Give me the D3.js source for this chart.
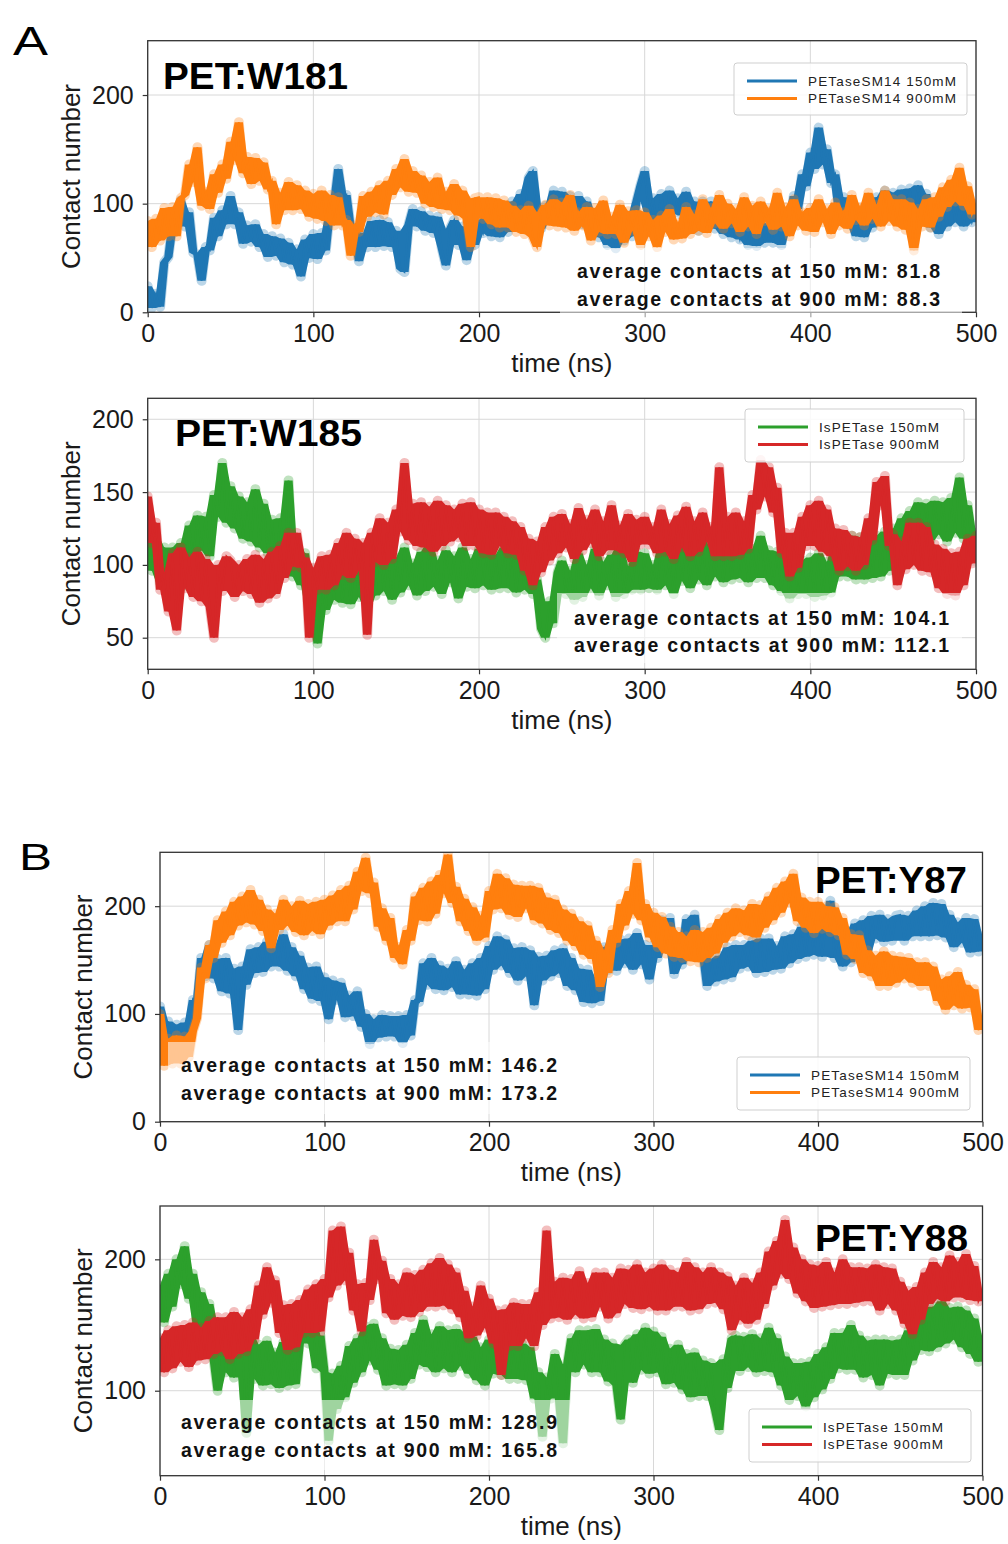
<!DOCTYPE html>
<html><head><meta charset="utf-8">
<script src="https://cdn.jsdelivr.net/npm/d3@7"></script>
<style>
html,body{margin:0;padding:0;background:#fff;}
svg{display:block;font-family:"Liberation Sans",Arial,Helvetica,sans-serif;}
</style></head><body>
<svg id="chart" width="1008" height="1544"></svg>
<script>
// ---------- data ----------
const time = d3.range(0, 500.01, 2.5);           // sampling times (ns)
const xTicks = [0, 100, 200, 300, 400, 500];
const yTicksW181 = [0, 100, 200];
const yTicksW185 = [50, 100, 150, 200];
const yTicksY87 = [0, 100, 200];
const yTicksY88 = [100, 200];
const titles = ["PET:W181", "PET:W185", "PET:Y87", "PET:Y88"];
const legendSM14 = ["PETaseSM14 150mM", "PETaseSM14 900mM"];
const legendIs = ["IsPETase 150mM", "IsPETase 900mM"];
const avg150 = ["81.8", "104.1", "146.2", "128.9"];
const avg900 = ["88.3", "112.1", "173.2", "165.8"];

const w181_150 = [
24,4,17,5,46,51,82,79,103,79,92,55,53,29,60,57,87,70,94,81,
107,81,92,63,80,65,81,60,72,51,70,52,68,46,64,44,58,33,67,50,
72,49,73,57,94,100,132,103,108,78,74,47,73,60,84,60,85,61,83,60,
75,40,37,81,95,79,93,75,89,73,88,59,43,77,85,62,79,48,76,62,
85,73,89,70,94,69,88,74,102,85,109,87,124,130,83,77,98,86,112,95,
111,85,107,81,107,81,102,75,91,69,85,62,84,59,82,66,89,70,102,117,
130,88,105,82,109,86,112,91,105,89,111,83,102,75,102,86,102,77,94,72,
90,69,83,67,80,62,84,61,83,64,79,64,85,62,89,76,107,95,127,116,
147,132,170,136,150,119,127,90,106,81,95,70,91,69,90,78,106,90,112,96,
110,94,113,89,114,89,117,92,109,78,91,72,95,79,107,83,105,79,98,83,
95];
const w181_900 = [
84,60,86,66,96,70,97,70,105,108,136,120,152,98,111,95,127,110,136,123,
157,140,175,128,143,118,142,121,138,113,121,81,110,94,120,94,117,95,112,88,
109,86,112,84,108,80,106,80,85,52,80,74,107,88,111,92,117,90,121,108,
132,115,141,111,130,110,126,100,120,97,124,95,111,94,118,89,112,86,60,105,
106,86,106,81,105,78,103,78,98,74,94,72,98,69,60,92,99,80,104,79,
101,78,108,75,92,80,97,66,96,74,103,72,88,72,99,64,93,75,94,62,
92,70,85,60,89,74,95,67,82,68,97,72,90,75,104,73,96,82,108,77,
100,82,95,74,106,79,98,72,102,84,95,76,110,79,97,70,104,80,92,75,
96,74,104,83,95,72,101,80,92,77,108,85,97,80,110,86,99,79,112,84,
104,79,104,76,101,57,95,79,104,78,106,88,115,97,122,102,133,98,116,90,
100];
const w185_150 = [
124,96,118,88,112,87,112,88,115,86,127,105,134,110,133,106,148,133,170,129,
154,125,147,118,143,116,152,112,142,108,131,101,132,105,158,92,114,86,108,71,
72,46,87,69,99,76,99,74,96,73,102,78,101,71,102,79,109,82,105,76,
105,81,112,86,101,79,109,82,114,85,103,80,110,88,106,77,112,85,104,84,
111,86,109,83,107,84,112,84,110,81,106,83,109,80,90,56,50,75,60,95,
103,80,96,76,108,78,100,84,111,79,102,86,107,78,113,80,99,83,109,83,
108,84,100,83,112,86,104,80,109,89,113,84,107,90,116,86,110,92,115,88,
113,90,114,91,112,88,111,91,120,91,110,86,109,82,106,77,104,80,103,80,
105,78,108,79,102,81,113,92,120,92,120,90,119,90,114,91,120,92,123,96,
125,103,132,109,137,114,143,120,142,117,144,121,143,116,146,122,160,118,141,113,
122];
const w185_900 = [
147,115,129,83,95,68,108,55,112,84,105,78,109,75,104,71,50,100,82,106,
103,78,100,82,104,80,107,74,104,77,109,80,113,91,122,99,122,98,105,50,
98,83,106,83,107,86,115,93,122,91,118,96,115,52,122,102,132,100,129,104,
138,123,170,117,142,113,143,112,140,109,144,113,141,116,138,119,142,113,143,113,
138,108,136,107,136,113,133,108,130,107,126,96,118,86,116,95,126,103,133,108,
135,112,128,104,139,110,131,115,138,106,130,110,141,110,127,108,135,102,131,114,
133,114,126,108,138,109,128,104,134,112,140,106,130,109,136,116,126,106,167,106,
133,106,136,107,130,111,148,138,172,147,167,136,153,108,122,92,122,98,133,113,
141,113,144,109,138,106,125,96,124,99,120,96,119,100,132,117,157,141,161,113,
121,86,116,97,129,100,129,96,126,95,114,84,111,80,108,79,109,86,118,101,
120];
const y87_150 = [
107,71,93,72,90,69,92,70,113,106,152,135,164,133,151,121,152,119,142,85,
144,127,160,138,162,139,167,144,163,144,174,140,162,135,154,123,143,114,144,112,
134,95,131,113,129,97,117,98,121,88,100,72,95,78,99,79,98,79,98,73,
99,80,113,111,147,127,152,123,145,122,142,125,149,118,141,118,147,117,152,123,
163,141,172,145,169,138,161,131,162,135,159,108,153,131,154,135,159,138,161,126,
152,122,142,111,141,110,132,112,162,141,171,140,169,147,170,141,175,146,164,132,
164,152,187,166,189,137,160,146,188,168,192,157,157,126,151,130,154,132,162,134,
164,142,164,144,168,138,170,139,170,141,163,142,172,147,174,151,181,153,184,155,
183,153,186,205,152,172,144,175,148,184,159,187,156,191,170,192,167,188,168,191,
192,168,191,172,196,172,200,172,203,173,202,171,192,162,185,166,189,157,188,158,
172];
const y87_900 = [
100,52,77,54,80,54,79,60,84,96,143,133,164,152,187,166,195,173,204,182,
209,185,215,183,206,177,197,161,193,178,206,182,200,176,205,173,202,177,204,174,
206,182,210,186,215,186,219,197,232,214,245,212,222,181,198,168,189,152,162,146,
178,168,209,187,217,186,223,193,229,212,248,203,218,186,207,177,199,168,191,171,
214,197,230,198,226,192,220,190,219,198,219,187,217,184,208,178,206,175,197,168,
193,163,186,155,182,151,168,125,159,138,178,166,202,182,214,193,240,187,202,171,
194,162,190,156,181,153,176,152,172,149,178,148,176,152,180,156,188,166,194,172,
198,176,196,173,202,171,201,180,209,187,217,194,223,203,230,186,208,180,204,175,
204,179,200,176,199,173,189,155,174,151,173,138,159,135,154,126,158,126,154,129,
153,133,152,129,148,126,148,126,144,112,132,104,135,108,139,105,127,106,123,85,
95];
const y88_150 = [
180,152,189,164,200,181,210,170,189,149,175,144,166,125,100,150,114,148,110,144,
137,68,142,109,135,104,138,105,129,102,137,104,131,105,139,163,136,156,117,142,
114,62,113,86,119,95,134,106,140,114,149,123,151,116,140,104,132,105,131,104,
135,109,144,120,154,118,143,114,149,117,146,114,147,119,144,113,141,108,133,104,
139,113,146,112,143,109,136,109,136,108,133,94,114,65,110,94,128,96,60,120,
140,114,146,120,146,114,147,114,139,107,136,104,78,135,139,106,143,116,148,113,
145,114,141,105,132,106,135,101,128,95,129,96,123,96,121,85,70,124,102,140,
142,115,141,118,143,114,140,115,148,114,140,104,126,93,121,96,121,88,122,95,
128,101,133,109,144,117,144,116,150,116,142,110,138,112,139,104,139,113,138,112,
139,112,146,123,158,131,163,130,164,133,168,136,163,139,164,133,161,128,155,122,
140];
const y88_900 = [
140,114,146,117,149,122,150,118,152,123,148,124,153,128,156,130,156,124,160,128,
156,130,162,139,180,158,194,167,184,144,165,131,166,133,169,144,177,144,181,145,
185,171,222,180,225,184,205,161,181,145,182,169,215,185,199,159,185,154,181,157,
190,156,188,160,192,164,197,164,201,165,196,162,190,156,176,140,164,142,180,148,
170,136,161,112,162,134,167,134,166,140,166,134,175,150,222,155,183,156,186,154,
185,158,191,155,182,156,190,164,190,155,186,159,193,166,192,163,196,162,190,164,
193,161,196,161,192,164,190,164,198,161,194,162,190,166,194,167,190,162,187,146,
180,154,186,151,182,154,190,166,206,180,214,189,230,185,209,174,200,168,196,163,
195,164,198,165,190,166,200,166,194,167,194,168,193,168,196,161,194,166,193,161,
183,151,176,143,179,154,190,166,198,170,194,168,203,171,198,171,204,169,195,168,
175];

// ---------- styles / layout ----------
const C = {blue:"#1f77b4", orange:"#ff7f0e", green:"#2ca02c", red:"#d62728"};
const panels = [
  {xr:[147.7,976], yr:[312.3,40.7], yd:[0,250], yt:yTicksW181, s:[w181_150,w181_900], c:[C.blue,C.orange],
   leg:legendSM14, lb:[734,63,233,52], ti:0, tx:163, ty:89, ta:"start", tw:185,
   box:[560,248,402,70], ax:577, ay:[278,306], aw:363, ylx:80},
  {xr:[147.7,976], yr:[669.3,398.3], yd:[28.3,214.4], yt:yTicksW185, s:[w185_150,w185_900], c:[C.green,C.red],
   leg:legendIs, lb:[745,409,219,53], ti:1, tx:175, ty:446, ta:"start", tw:187,
   box:[557,593,405,70], ax:574, ay:[625,652], aw:375, ylx:80},
  {xr:[160,982.5], yr:[1121.7,852.3], yd:[0,250], yt:yTicksY87, s:[y87_150,y87_900], c:[C.blue,C.orange],
   leg:legendSM14, lb:[737,1057,233,53], ti:2, tx:967, ty:893, ta:"end", tw:152,
   box:[168,1042,400,72], ax:181, ay:[1072,1100], aw:376, ylx:92},
  {xr:[160,982.5], yr:[1475.7,1206], yd:[35.3,240.6], yt:yTicksY88, s:[y88_150,y88_900], c:[C.green,C.red],
   leg:legendIs, lb:[749,1409,222,53], ti:3, tx:968, ty:1251, ta:"end", tw:153,
   box:[168,1400,402,70], ax:181, ay:[1429,1457], aw:376, ylx:92}
];

const svg = d3.select("#chart");
const defs = svg.append("defs");

panels.forEach((p, pi) => {
  const x = d3.scaleLinear().domain([0, 500]).range(p.xr);
  const y = d3.scaleLinear().domain(p.yd).range(p.yr);
  const g = svg.append("g");
  const L = p.xr[0], R = p.xr[1], T = p.yr[1], B = p.yr[0];

  defs.append("clipPath").attr("id", "clip" + pi)
    .append("rect").attr("x", L).attr("y", T).attr("width", R - L).attr("height", B - T);

  // grid
  g.append("g").selectAll("line").data(xTicks).join("line")
    .attr("x1", d => x(d)).attr("x2", d => x(d)).attr("y1", T).attr("y2", B)
    .attr("stroke", "#d8d8d8").attr("stroke-width", 1);
  g.append("g").selectAll("line").data(p.yt).join("line")
    .attr("x1", L).attr("x2", R).attr("y1", d => y(d)).attr("y2", d => y(d))
    .attr("stroke", "#d8d8d8").attr("stroke-width", 1);

  // series: light halo along the trace, dense core filling neighbouring samples, trace on top
  const line = d3.line().x((d, i) => x(time[i])).y(d => y(d));
  const band = d3.area().x((d, i) => x(time[i]))
    .y0((d, i, a) => y(Math.min(a[Math.max(0, i - 1)], d, a[Math.min(a.length - 1, i + 1)])))
    .y1((d, i, a) => y(Math.max(a[Math.max(0, i - 1)], d, a[Math.min(a.length - 1, i + 1)])));
  const dg = g.append("g").attr("clip-path", `url(#clip${pi})`);
  p.s.forEach((ser, si) => {
    dg.append("path").attr("d", line(ser)).attr("fill", "none")
      .attr("stroke", p.c[si]).attr("stroke-width", 10).attr("stroke-opacity", 0.3)
      .attr("stroke-linejoin", "round").attr("stroke-linecap", "round");
    dg.append("path").attr("d", band(ser)).attr("fill", p.c[si]).attr("stroke", "none");
    dg.append("path").attr("d", line(ser)).attr("fill", "none")
      .attr("stroke", p.c[si]).attr("stroke-width", 1.8).attr("stroke-linejoin", "miter")
      .attr("stroke-miterlimit", 4);
  });

  // axes
  const xa = g.append("g").attr("transform", `translate(0,${B})`)
    .call(d3.axisBottom(x).tickValues(xTicks).tickSize(5).tickPadding(7).tickFormat(d3.format("d")));
  const ya = g.append("g").attr("transform", `translate(${L},0)`)
    .call(d3.axisLeft(y).tickValues(p.yt).tickSize(5).tickPadding(9).tickFormat(d3.format("d")));
  [xa, ya].forEach(a => {
    a.attr("font-family", null).attr("font-size", null);
    a.select(".domain").remove();
    a.selectAll(".tick line").attr("stroke", "#333").attr("stroke-width", 1.2);
    a.selectAll(".tick text").attr("fill", "#1a1a1a").style("font-size", "25px");
  });

  // spines
  g.append("rect").attr("x", L).attr("y", T).attr("width", R - L).attr("height", B - T)
    .attr("fill", "none").attr("stroke", "#333").attr("stroke-width", 1.3);

  // axis labels
  g.append("text").attr("x", (L + R) / 2).attr("y", B + 59.5).attr("text-anchor", "middle")
    .attr("fill", "#1a1a1a").style("font-size", "26px").text("time (ns)");
  g.append("text").attr("transform", `translate(${p.ylx},${(T + B) / 2}) rotate(-90)`)
    .attr("text-anchor", "middle").attr("fill", "#1a1a1a").style("font-size", "26px").text("Contact number");

  // annotation box + text
  g.append("rect").attr("x", p.box[0]).attr("y", p.box[1]).attr("width", p.box[2]).attr("height", p.box[3])
    .attr("fill", "#fff").attr("fill-opacity", 0.55);
  const ann = [`average contacts at 150 mM: ${avg150[pi]}`, `average contacts at 900 mM: ${avg900[pi]}`];
  ann.forEach((t, k) => {
    g.append("text").attr("x", p.ax).attr("y", p.ay[k]).attr("fill", "#111")
      .style("font-size", "19.5px").style("font-weight", "bold")
      .attr("textLength", p.aw).attr("lengthAdjust", "spacing").text(t);
  });

  // title
  g.append("text").attr("x", p.tx).attr("y", p.ty).attr("text-anchor", p.ta)
    .attr("fill", "#000").style("font-size", "37px").style("font-weight", "bold")
    .attr("textLength", p.tw).attr("lengthAdjust", "spacingAndGlyphs").text(titles[p.ti]);

  // legend
  const lg = g.append("g").attr("transform", `translate(${p.lb[0]},${p.lb[1]})`);
  lg.append("rect").attr("width", p.lb[2]).attr("height", p.lb[3]).attr("rx", 3)
    .attr("fill", "#fff").attr("fill-opacity", 0.85).attr("stroke", "#cfcfcf").attr("stroke-width", 1);
  p.leg.forEach((lab, k) => {
    const yy = 18 + k * 17.5;
    lg.append("line").attr("x1", 13).attr("x2", 63).attr("y1", yy).attr("y2", yy)
      .attr("stroke", p.c[k]).attr("stroke-width", 3);
    lg.append("text").attr("x", 74).attr("y", yy).attr("dy", "0.36em").attr("fill", "#222")
      .style("font-size", "13.5px")
      .attr("textLength", lab.startsWith("PET") ? 148 : 120).attr("lengthAdjust", "spacing").text(lab);
  });
});

// panel letters
svg.append("text").attr("x", 13).attr("y", 55).attr("fill", "#000").style("font-size", "41px")
  .attr("textLength", 35).attr("lengthAdjust", "spacingAndGlyphs").text("A");
svg.append("text").attr("x", 19).attr("y", 870).attr("fill", "#000").style("font-size", "36px")
  .attr("textLength", 33).attr("lengthAdjust", "spacingAndGlyphs").text("B");
</script>
</body></html>
